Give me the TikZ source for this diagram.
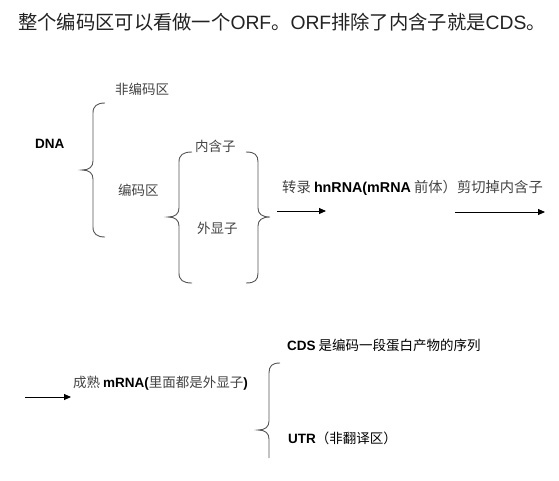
\documentclass[tikz,border=0pt]{standalone}
\usepackage{fontspec}
\setmainfont{Noto Sans CJK SC}
\newfontfamily\lat{Liberation Sans}
\usetikzlibrary{arrows.meta}
\definecolor{txt}{HTML}{444444}
\definecolor{ttl}{HTML}{222222}
\definecolor{brc}{HTML}{555555}
\tikzset{
  lbl/.style={anchor=west,inner sep=0pt,text=txt,font=\fontsize{13.5}{15}\selectfont},
  brace/.style={draw=brc,line width=0.9pt},
  arr/.style={draw=black,line width=0.9pt,-{Triangle[length=7pt,width=6pt]}}
}
\newcommand{\bb}[1]{{\lat\bfseries\color{black}#1}}
\begin{document}
\begin{tikzpicture}[x=1pt,y=-1pt]
\useasboundingbox[fill=white] (0,0) rectangle (559,480);
% title
\node[anchor=west,inner sep=0pt,text=ttl,font=\fontsize{19.3}{22}\selectfont] (title) at (18,22)
  {整个编码区可以看做一个{\lat ORF}。{\lat ORF}排除了内含子就是{\lat CDS}。};
% DNA
\node[lbl] (dna) at (35,144) {\bb{DNA}};
\node[lbl] (nonc) at (115,89) {非编码区};
\node[lbl] (cod) at (118,190) {编码区};
\node[lbl] (intr) at (195,146) {内含子};
\node[lbl] (exon) at (197,228) {外显子};
% brace 1
\draw[brace] (105,103) .. controls (97,103) and (93,106) .. (93,113) -- (93,161)
  .. controls (93,167) and (89,170) .. (82,170) .. controls (89,170) and (93,173) .. (93,179)
  -- (93,227) .. controls (93,234) and (97,237) .. (105,237);
% brace 2 (opening)
\draw[brace] (192,152) .. controls (183,152) and (179,155) .. (179,162) -- (179,208)
  .. controls (179,214) and (175,217) .. (168,217) .. controls (175,217) and (179,220) .. (179,226)
  -- (179,273) .. controls (179,280) and (183,283) .. (192,283);
% brace 3 (closing)
\draw[brace] (246,152) .. controls (255,152) and (258,155) .. (258,162) -- (258,208)
  .. controls (258,214) and (262,217) .. (270,217) .. controls (262,217) and (258,220) .. (258,226)
  -- (258,273) .. controls (258,280) and (255,283) .. (246,283);
% arrows and text row
\coordinate (a1s) at (277,211); \coordinate (a1e) at (326,211);
\draw[arr] (a1s) -- (a1e);
\node[lbl,font=\fontsize{14.3}{16}\selectfont] (trans) at (282,188) {转录 \bb{hnRNA(mRNA} 前体）剪切掉内含子};
\coordinate (a2s) at (455,212); \coordinate (a2e) at (545,212);
\draw[arr] (a2s) -- (a2e);
% bottom
\coordinate (a3s) at (25,397); \coordinate (a3e) at (71,397);
\draw[arr] (a3s) -- (a3e);
\node[lbl] (mature) at (73,383) {成熟 \bb{mRNA(}里面都是外显子\bb{)}};
\node[lbl,text=black] (cds) at (287,345) {\bb{CDS} 是编码一段蛋白产物的序列};
\node[lbl,text=black] (utr) at (288,438) {\bb{UTR}（非翻译区）};
% brace 4 (cut off at bottom)
\draw[brace] (280,363) .. controls (272,363) and (269,366) .. (269,373) -- (269,421)
  .. controls (269,427) and (265,430) .. (258,430) .. controls (265,430) and (269,433) .. (269,439)
  -- (269,458);
\end{tikzpicture}
\end{document}
